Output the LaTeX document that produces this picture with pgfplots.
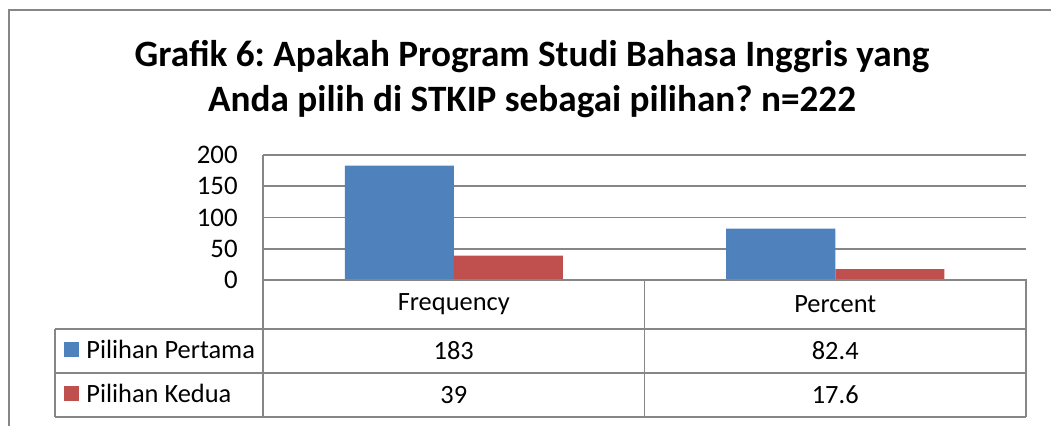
\documentclass[border=0pt]{standalone}
\usepackage{fontspec}
\setmainfont{Carlito}
\usepackage{pgfplots}
\pgfplotsset{compat=1.18}
\definecolor{barblue}{HTML}{4F81BD}
\definecolor{barred}{HTML}{C0504D}
\definecolor{linegray}{HTML}{868686}
\frenchspacing
\begin{document}
\begin{tikzpicture}[x=0.5pt,y=0.5pt]
% one unit = one pixel of the 1051x425 reference, y upwards from the bottom
\useasboundingbox (0,0) rectangle (1051,425);
\draw[linegray, line width=1pt] (9,-15) -- (9,415) -- (1070,415);

\node[anchor=base, font=\bfseries\fontsize{18.6}{21}\selectfont] at (532,359)
  {Grafik 6: Apakah Program Studi Bahasa Inggris yang};
\node[anchor=base, font=\bfseries\fontsize{18.6}{21}\selectfont] at (532,314)
  {Anda pilih di STKIP sebagai pilihan? n=222};

\begin{axis}[
    at={(131.5pt,72.5pt)}, anchor=south west,
    scale only axis,
    width=381.5pt, height=62.5pt,
    ybar=0pt, bar width=54.5pt,
    xmin=-0.5, xmax=1.5,
    ymin=0, ymax=200,
    xtick=\empty,
    ytick={0,50,100,150,200},
    ymajorgrids,
    grid style={linegray, line width=0.8pt},
    axis line style={draw=none},
    major tick length=0pt,
    yticklabel style={font=\fontsize{13.4}{15}\selectfont, anchor=east, inner sep=0pt, xshift=-12.5pt},
    /pgf/number format/assume math mode=true,
]
\addplot[fill=barblue, draw=none] coordinates {(0,183) (1,82.4)};
\addplot[fill=barred, draw=none] coordinates {(0,39) (1,17.6)};
\end{axis}

% data table
\begin{scope}[linegray, line width=0.8pt]
\draw (263,270) -- (263,8);
\draw (263,145) -- (1026,145) -- (1026,8);
\draw (55,96) -- (1026,96);
\draw (55,52) -- (1026,52);
\draw (55,8) -- (1026,8);
\draw (55,96) -- (55,8);
\draw (644.5,145) -- (644.5,8);
\end{scope}
\begin{scope}[every node/.style={font=\fontsize{13.2}{15}\selectfont}]
\node at (453.75,121) {Frequency};
\node at (835.25,121) {Percent};
\node at (453.75,74) {183};
\node at (835.25,74) {82.4};
\node at (453.75,30) {39};
\node at (835.25,30) {17.6};
\fill[barblue] (64,83) rectangle (79,68);
\fill[barred] (64,39) rectangle (79,24);
\node[anchor=west, inner sep=0pt] at (86,75.5) {Pilihan Pertama};
\node[anchor=west, inner sep=0pt] at (86,31.5) {Pilihan Kedua};
\end{scope}
\end{tikzpicture}
\end{document}
